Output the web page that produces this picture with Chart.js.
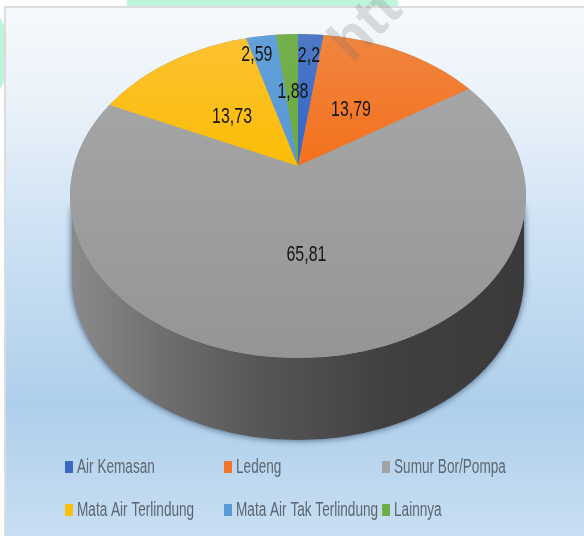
<!DOCTYPE html>
<html><head><meta charset="utf-8">
<style>html,body{margin:0;padding:0;background:#fff}canvas{display:block}</style>
<script src="https://cdn.jsdelivr.net/npm/chart.js@4"></script></head>
<body><canvas id="c" width="584" height="536"></canvas>
<script>
const categories = ["Air Kemasan","Ledeng","Sumur Bor/Pompa","Mata Air Terlindung","Mata Air Tak Terlindung","Lainnya"];
const values = [2.2,13.79,65.81,13.73,2.59,1.88];
const topColors = ["#4f79c6","#f08540","#a9a9a9","#fcc233","#62a0d8","#74b04d"];
const bottomColors = ["#2e63c9","#f46f18","#959595","#fbbc00","#5597d6","#6aa93f"];
const swatchColors = ["#3a68c4","#f2752a","#a3a3a3","#fcc010","#5b9bd5","#6fae45"];
const labelRadii = [158,98,122,98,165,108];
const labelTurns = [0,0,0,-1.5,-3,0.7];
const legendCols = [65,224,382,65,224,382];
const legendRows = [467,467,467,510,510,510];

const FONT = '"Liberation Sans",sans-serif';
const SQUASH = 0.71, CX = 298, CY = 166;
const FACE = {x:298, y:196, rx:228, ry:162};
const WALL = {x:298, y:278, rx:226, ry:162, top:208};

const ctx0 = document.getElementById('c').getContext('2d');
const localY = y => CY + (y - CY) / SQUASH;
const fills = topColors.map((t,i)=>{
  const g = ctx0.createLinearGradient(0, localY(34), 0, localY(358));
  g.addColorStop(0, t); g.addColorStop(i===2?1:0.45, bottomColors[i]); if(i!==2) g.addColorStop(1, bottomColors[i]);
  return g;
});

function stretchedText(ctx, text, x, y, size, color, align, sx, sy){
  ctx.save();
  ctx.translate(x, y); ctx.scale(sx, sy);
  ctx.font = size + 'px ' + FONT;
  ctx.fillStyle = color; ctx.textAlign = align; ctx.textBaseline = 'middle';
  ctx.fillText(text, 0, 0);
  ctx.restore();
}

const scene = {
  id:'scene',
  beforeDraw(chart){
    const c = chart.ctx;
    c.save();
    c.fillStyle = '#fff'; c.fillRect(0,0,584,536);
    c.fillStyle = '#bdf5da'; c.fillRect(127,0,271,7);
    c.beginPath(); c.moveTo(0,18); c.lineTo(5,26); c.lineTo(5,80); c.lineTo(0,90); c.closePath(); c.fill();
    const g = c.createLinearGradient(0,7,0,536);
    g.addColorStop(0,'#f6f9fc'); g.addColorStop(0.18,'#eaf2f9'); g.addColorStop(0.42,'#cfe2f4');
    g.addColorStop(0.75,'#aecfeb'); g.addColorStop(1,'#c8deF2');
    c.fillStyle = '#dcdcdc'; c.fillRect(4,6,580,530);
    c.fillStyle = g; c.fillRect(6,8,578,528);
    c.restore();
  },
  beforeDatasetsDraw(chart){
    const c = chart.ctx;
    c.save();
    const w = c.createLinearGradient(70,0,526,0);
    w.addColorStop(0,'#8b8b8b'); w.addColorStop(0.2,'#6f6f6f'); w.addColorStop(0.42,'#565656');
    w.addColorStop(0.7,'#404040'); w.addColorStop(1,'#3a3a3a');
    c.shadowColor = 'rgba(30,50,80,0.8)'; c.shadowBlur = 7;
    c.fillStyle = w;
    c.beginPath();
    c.ellipse(WALL.x,WALL.y,WALL.rx,WALL.ry,0,0,Math.PI);
    c.lineTo(WALL.x-WALL.rx,WALL.top);
    c.lineTo(WALL.x+WALL.rx,WALL.top);
    c.closePath(); c.fill();
    c.restore();
    c.save();
    c.fillStyle = '#9d9d9d';
    c.beginPath(); c.ellipse(FACE.x,FACE.y,FACE.rx,FACE.ry,0,0,Math.PI*2); c.fill(); c.clip();
    c.translate(CX,CY); c.scale(1,SQUASH); c.translate(-CX,-CY);
  },
  afterDatasetsDraw(chart){
    chart.ctx.restore();
    const c = chart.ctx;
    const meta = chart.getDatasetMeta(0);
    meta.data.forEach((arc,i)=>{
      const a = (arc.startAngle + arc.endAngle)/2 + labelTurns[i]*Math.PI/180;
      const x = arc.x + Math.cos(a)*labelRadii[i];
      const y = arc.y + Math.sin(a)*labelRadii[i]*SQUASH + 2;
      stretchedText(c, String(values[i]).replace('.',','), x, y, 19, '#141414', 'center', 0.84, 1.2);
    });
    categories.forEach((t,i)=>{
      const x = legendCols[i], y = legendRows[i];
      c.fillStyle = swatchColors[i]; c.fillRect(x,y-6,8,12);
      stretchedText(c, t, x+12, y, 16, '#5c6670', 'left', 0.85, 1.25);
    });
  },
  afterDraw(chart){
    const c = chart.ctx;
    c.save();
    c.translate(352,64); c.rotate(-Math.PI/4);
    c.font = 'bold 58px "Liberation Sans",sans-serif';
    c.fillStyle = 'rgba(110,110,110,0.22)'; c.textBaseline='alphabetic';
    c.fillText('htt',0,0);
    c.restore();
  }
};

new Chart(ctx0,{
  type:'pie',
  data:{labels:categories,datasets:[{data:values,backgroundColor:fills,borderWidth:0,clip:false}]},
  options:{
    responsive:false,animation:false,
    radius:320,
    layout:{padding:{left:12,bottom:204}},
    plugins:{legend:{display:false},tooltip:{enabled:false}}
  },
  plugins:[scene]
});
</script></body></html>
